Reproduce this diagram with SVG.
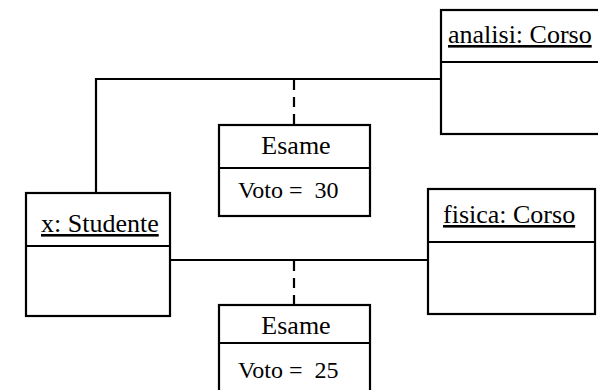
<svg xmlns="http://www.w3.org/2000/svg" width="598" height="390" viewBox="0 0 598 390">
<style>
.box{fill:#fff;stroke:#000;stroke-width:2.2}
.div{stroke:#000;stroke-width:2.2}
.t{font-family:"Liberation Serif","Times New Roman",serif;font-size:26px;fill:#000}
.v{font-family:"Liberation Serif","Times New Roman",serif;font-size:24px;fill:#000}
.u{text-decoration:underline}
.c{fill:none;stroke:#000;stroke-width:2.2}
.d{fill:none;stroke:#000;stroke-width:2.2;stroke-dasharray:10 7}
</style>
<rect width="598" height="390" fill="#fff"/>
<g id="connectors">
<polyline class="c" points="96,193 96,79 441,79"/>
<line class="d" x1="294" y1="80" x2="294" y2="125"/>
<line class="c" x1="170" y1="260" x2="428" y2="260"/>
<line class="d" x1="294" y1="261" x2="294" y2="305"/>
</g>
<g id="studente">
<rect class="box" x="26" y="193" width="144" height="123"/>
<line class="div" x1="26" y1="246" x2="170" y2="246"/>
<text class="t u" x="41" y="232">x: Studente</text>
</g>
<g id="analisi">
<rect class="box" x="441" y="10" width="170" height="124"/>
<line class="div" x1="441" y1="62" x2="611" y2="62"/>
<text class="t u" x="448" y="43">analisi: Corso</text>
</g>
<g id="fisica">
<rect class="box" x="428" y="189" width="167" height="125"/>
<line class="div" x1="428" y1="242" x2="595" y2="242"/>
<text class="t u" x="443" y="223">fisica: Corso</text>
</g>
<g id="esame1">
<rect class="box" x="219" y="125" width="151" height="91"/>
<line class="div" x1="219" y1="168" x2="370" y2="168"/>
<text class="t" x="296" y="154" text-anchor="middle">Esame</text>
<text class="v" x="238" y="198" xml:space="preserve">Voto =  30</text>
</g>
<g id="esame2">
<rect class="box" x="219" y="305" width="151" height="100"/>
<line class="div" x1="219" y1="343" x2="370" y2="343"/>
<text class="t" x="296" y="334" text-anchor="middle">Esame</text>
<text class="v" x="238" y="378" xml:space="preserve">Voto =  25</text>
</g>
</svg>
